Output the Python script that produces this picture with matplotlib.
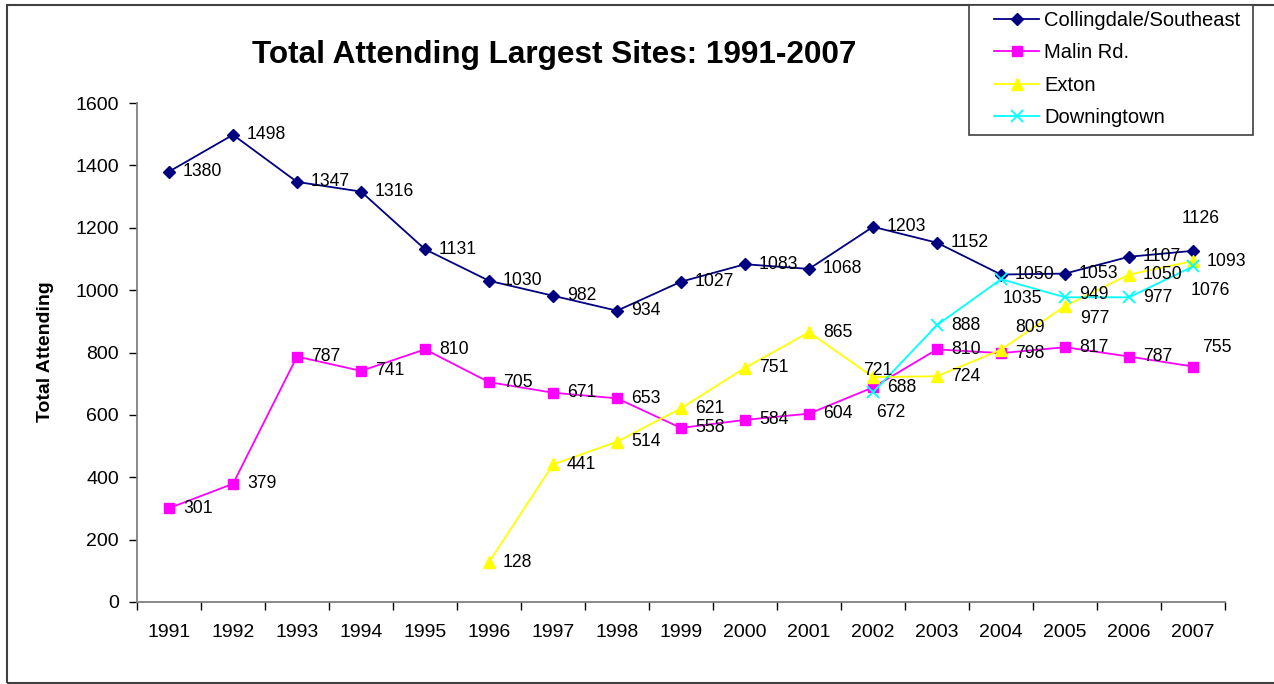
import matplotlib
matplotlib.use("Agg")
import matplotlib.pyplot as plt
from matplotlib.patches import Rectangle

plt.rcParams['font.family'] = ['Liberation Sans', 'DejaVu Sans']

years = ['1991', '1992', '1993', '1994', '1995', '1996', '1997', '1998', '1999',
         '2000', '2001', '2002', '2003', '2004', '2005', '2006', '2007']
collingdale = [1380, 1498, 1347, 1316, 1131, 1030, 982, 934, 1027, 1083, 1068,
               1203, 1152, 1050, 1053, 1107, 1126]
malin = [301, 379, 787, 741, 810, 705, 671, 653, 558, 584, 604, 688, 810, 798,
         817, 787, 755]
exton_years = ['1996', '1997', '1998', '1999', '2000', '2001', '2002', '2003',
               '2004', '2005', '2006', '2007']
exton = [128, 441, 514, 621, 751, 865, 721, 724, 809, 949, 1050, 1093]
down_years = ['2002', '2003', '2004', '2005', '2006', '2007']
downingtown = [672, 888, 1035, 977, 977, 1076]

W, H = 1274, 684
fig = plt.figure(figsize=(W / 100, H / 100), dpi=100)
ax = fig.add_axes([137 / W, 1 - 602 / H, (1225 - 137) / W, (602 - 103) / H])

xi = {y: i for i, y in enumerate(years)}
series = [
    ('Collingdale/Southeast', years, collingdale, '#000080', 'D', 6.5, 'Collingdale'),
    ('Malin Rd.', years, malin, '#FF00FF', 's', 6.5, 'Malin'),
    ('Exton', exton_years, exton, '#FFFF00', '^', 8, 'Exton'),
    ('Downingtown', down_years, downingtown, '#00FFFF', 'x', 8, 'Down'),
]

# special label offsets (pixels) for crowded points: (series key, year) -> (dx, dy, ha)
special = {
    ('Collingdale', '2007'): (8, 32, 'center'),
    ('Down', '2007'): (17, -24, 'center'),
    ('Down', '2004'): (21, -19, 'center'),
    ('Exton', '2004'): (29, 22, 'center'),
    ('Exton', '2005'): (29, 12, 'center'),
    ('Down', '2005'): (30, -21, 'center'),
    ('Exton', '2002'): (5, 7, 'center'),
    ('Down', '2002'): (18, -20, 'center'),
    ('Malin', '2007'): (24, 19, 'center'),
}

handles = []
for name, yrs, vals, col, mk, ms, key in series:
    xs = [xi[y] for y in yrs]
    mew = 1.3 if mk == 'x' else 1.0
    ln, = ax.plot(xs, vals, color=col, lw=1.3, marker=mk, ms=ms,
                  markeredgewidth=mew, markeredgecolor=col, markerfacecolor=col,
                  label=name, clip_on=False, zorder=3)
    handles.append(ln)
    for x, y, yr in zip(xs, vals, yrs):
        dx, dy, ha = special.get((key, yr), (14, 0, 'left'))
        ax.annotate(str(y), (x, y), xytext=(dx, dy), textcoords='offset pixels',
                    ha=ha, va='center', fontsize=12.7, color='black', zorder=4)

ax.set_xlim(-0.5, len(years) - 0.5)
ax.set_ylim(0, 1600)
ax.set_yticks(range(0, 1601, 200))
ax.set_xticks(range(len(years)))
ax.set_xticklabels(years)
ax.set_xticks([i - 0.5 for i in range(len(years) + 1)], minor=True)
ax.tick_params(axis='x', which='major', length=0, pad=16, labelsize=14)
ax.tick_params(axis='x', which='minor', length=6, width=1, color='black', direction='out')
ax.tick_params(axis='y', length=6, width=1, color='black', direction='out',
               pad=7, labelsize=14)
for s in ['top', 'right']:
    ax.spines[s].set_visible(False)
for s in ['left', 'bottom']:
    ax.spines[s].set_color('#808080')
    ax.spines[s].set_linewidth(1.3)

fig.text(554 / W, 1 - 63 / H, 'Total Attending Largest Sites: 1991-2007',
         ha='center', va='baseline', fontsize=22.7, fontweight='bold')
fig.text(45 / W, 1 - 352 / H, 'Total Attending', rotation=90, ha='center',
         va='center', fontsize=14, fontweight='bold')

# outer frame
fig.patches.append(Rectangle((7 / W, 1 - 683 / H), 1.2, (683 - 5) / H,
                             transform=fig.transFigure, fill=False,
                             edgecolor='#404040', lw=1.5))
# legend box
fig.patches.append(Rectangle((969 / W, 1 - 135 / H), (1253 - 969) / W, (135 - 5) / H,
                             transform=fig.transFigure, fill=True, facecolor='white',
                             edgecolor='#404040', lw=1.2, zorder=5))
leg = fig.legend(handles=handles, loc='upper left',
                 bbox_to_anchor=(978 / W, 1 + 5 / H), frameon=False,
                 fontsize=14.5, handlelength=2.25, handletextpad=0.25,
                 labelspacing=0.66, borderpad=0.3)
leg.set_zorder(6)

fig.savefig('out.png', dpi=100)
